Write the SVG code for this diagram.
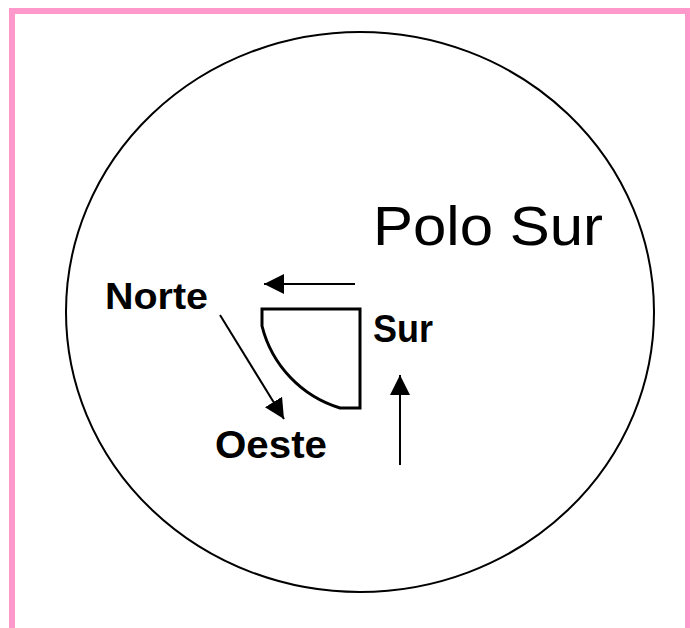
<svg xmlns="http://www.w3.org/2000/svg" width="690" height="628" viewBox="0 0 690 628">
<defs>
<style>
.ln{stroke:#000;stroke-width:2;fill:none}
.lbl{font-family:"Liberation Sans",Arial,sans-serif;font-weight:bold;fill:#000}
</style>
<marker id="ah" markerWidth="20" markerHeight="20" refX="20" refY="10" orient="auto" markerUnits="userSpaceOnUse">
<path d="M0,0 L20,10 L0,20 Z" fill="#000"/>
</marker>
</defs>
<rect x="0" y="0" width="690" height="628" fill="#fff"/>
<rect x="12" y="11" width="676" height="640" fill="none" stroke="#FF99CC" stroke-width="6"/>
<g id="globe"><ellipse cx="360" cy="312" rx="294" ry="280" fill="none" stroke="#000" stroke-width="2"/></g>
<g id="quadrant"><path d="M262,309 H360 V408 H340 A115,115 0 0 1 262,326 Z" fill="none" stroke="#000" stroke-width="3"/></g>
<g id="polo-sur"><text x="373" y="245" font-family="'Liberation Sans',Arial,sans-serif" font-size="56" textLength="230" lengthAdjust="spacingAndGlyphs">Polo Sur</text></g>
<g id="norte"><text class="lbl" x="105" y="309" font-size="37" textLength="103" lengthAdjust="spacingAndGlyphs">Norte</text></g>
<g id="oeste"><text class="lbl" x="215" y="458" font-size="39" textLength="112" lengthAdjust="spacingAndGlyphs">Oeste</text></g>
<g id="sur"><text class="lbl" x="373" y="342" font-size="39" textLength="60" lengthAdjust="spacingAndGlyphs">Sur</text></g>
<g id="connectors">
<line class="ln" x1="355" y1="284" x2="264" y2="284" marker-end="url(#ah)"/>
<line class="ln" x1="400" y1="465" x2="400" y2="375" marker-end="url(#ah)"/>
<line class="ln" x1="220" y1="315" x2="284" y2="419" marker-end="url(#ah)"/>
</g>
</svg>
